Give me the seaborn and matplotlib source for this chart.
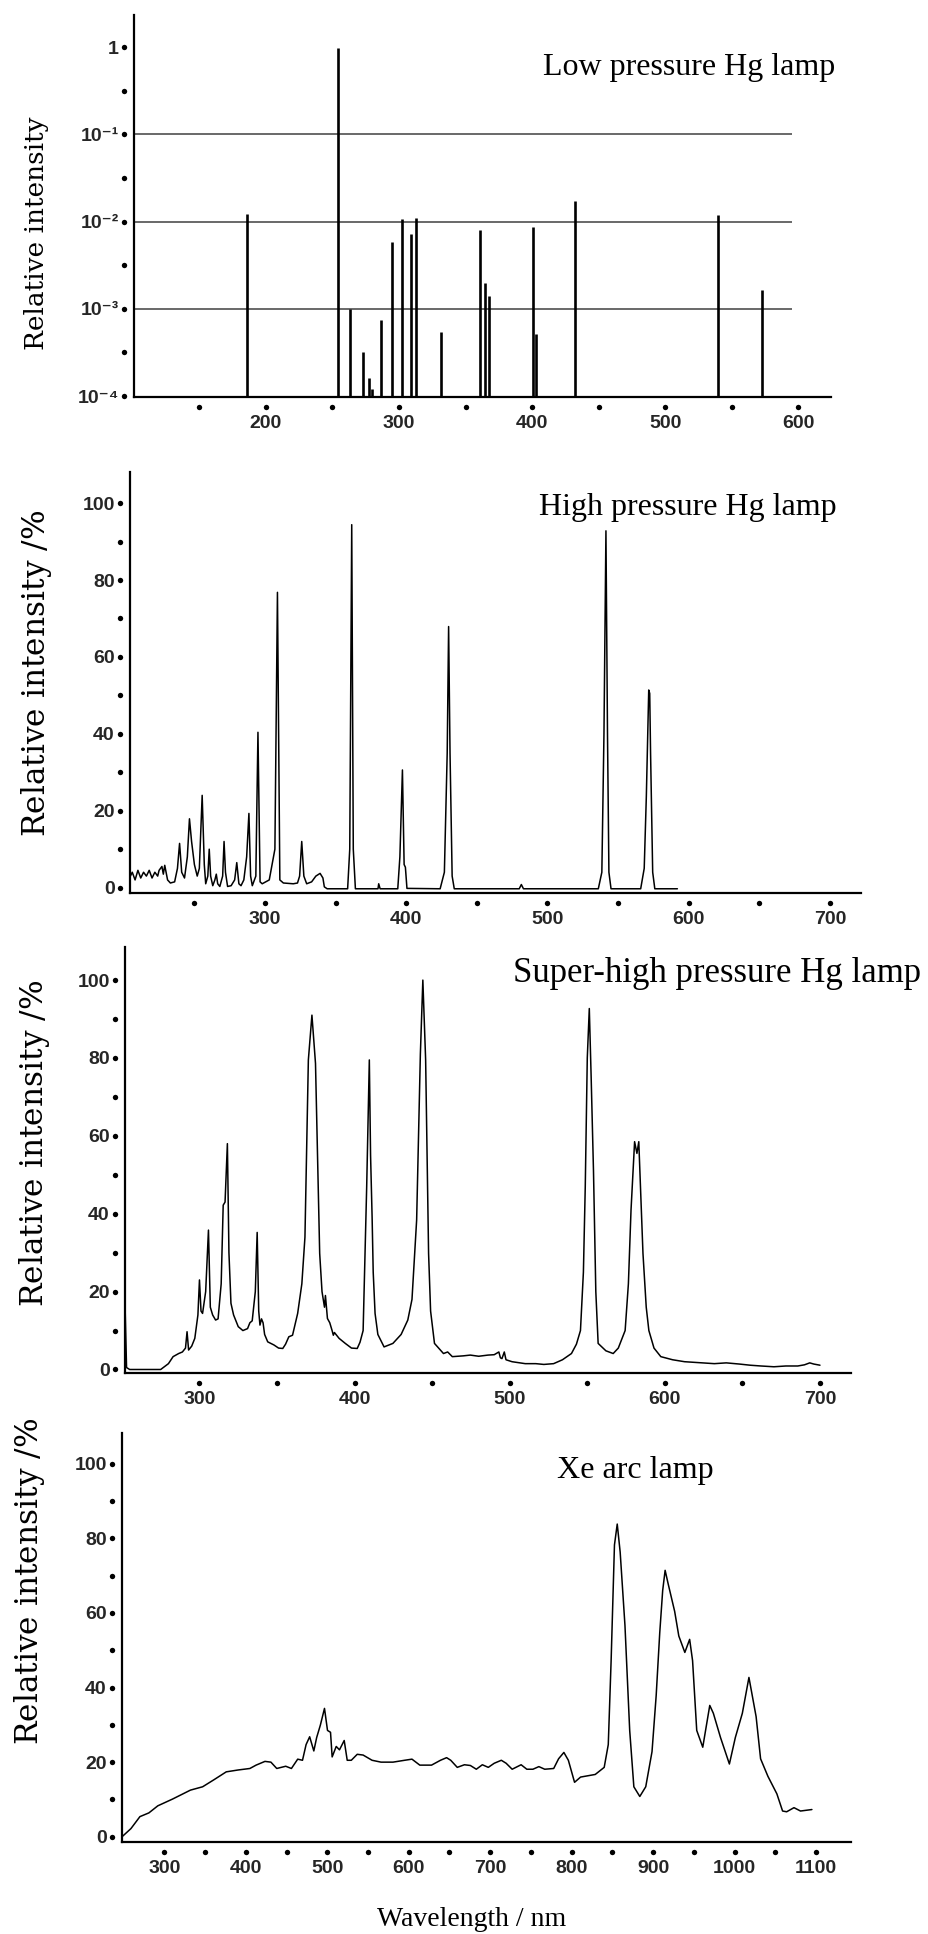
import numpy as np
import pandas as pd
import matplotlib
matplotlib.use("Agg")
import matplotlib.pyplot as plt
import seaborn as sns
from matplotlib.transforms import blended_transform_factory, ScaledTranslation

# ---------------- data ----------------
# Panel 1: low pressure Hg lamp (line spectrum, log intensity)
low_nm = [185.7, 254.2, 263.5, 273.0, 277.8, 280.0, 286.7, 295.0, 302.0, 309.0,
          313.0, 331.5, 361.0, 364.4, 367.6, 401.0, 403.0, 432.0, 540.0, 573.0]
low_int = [1.23e-2, 0.97, 1.0e-3, 3.2e-4, 1.6e-4, 1.2e-4, 7.4e-4, 5.9e-3, 1.07e-2, 7.2e-3,
           1.1e-2, 5.4e-4, 8.1e-3, 2.0e-3, 1.4e-3, 8.7e-3, 5.1e-4, 1.7e-2, 1.2e-2, 1.65e-3]
low_ref_levels = [1e-1, 1e-2, 1e-3]
low_yticks = [1e-4, 1e-3, 1e-2, 1e-1, 1]
low_yticklabels = ["10\u207b\u2074", "10\u207b\u00b3", "10\u207b\u00b2", "10\u207b\u00b9", "1"]
low_xticks = [200, 300, 400, 500, 600]

# Panel 2: high pressure Hg lamp
high_nm = [204, 206, 208, 210, 212, 214, 216, 218, 220, 222, 224, 225, 227, 228, 229, 231, 233,
           236, 238, 239.5, 241, 243, 245, 246.5, 248, 250, 252, 253.5, 255.5, 257, 258, 259.5,
           260.5, 261.5, 263, 264.5, 265.5, 266.5, 268, 270, 271, 272, 273.5, 276, 278.5, 280,
           281.5, 283, 285, 287, 288.6, 289.8, 291, 293.5, 295, 296.5, 298, 303, 307, 308.8,
           310.5, 313, 320, 323, 324.5, 326, 327.5, 329.5, 333, 336, 339, 341, 342, 344,
           358.5, 360, 361.4, 362.5, 364, 380, 380.5, 381.5, 394, 395.5, 397.3, 398.5, 399.4,
           400.5, 424, 427, 429, 430, 431, 432.5, 434, 480, 481.5, 483, 536, 538.5, 540, 541.4,
           542.5, 543.5, 545, 566, 568.5, 570, 571, 571.7, 572.4, 573, 574.5, 576, 592]
high_int = [2.5, 4, 2, 4.5, 2.5, 4, 3, 4.5, 2.5, 4, 3, 4.5, 5.5, 3.5, 5.8, 2, 1.2,
            1.5, 5, 11.5, 4, 2.5, 8, 17.9, 12, 6, 3, 5, 24, 6, 1, 3,
            10, 3, 0.5, 2, 3.5, 1, 0.3, 3, 12, 4, 0.3, 0.5, 2, 6.5,
            1, 0.5, 2, 8, 19.3, 3, 0.5, 3, 40.4, 1.5, 1, 2, 10, 76.8,
            2, 1.2, 1.0, 1.2, 3, 12, 3, 1, 1.5, 3, 3.7, 2.5, 0.2, -0.3,
            -0.3, 10, 94.4, 10, -0.3, -0.3, 1.0, -0.3, -0.3, 8, 30.6, 6, 5.3,
            -0.2, -0.3, 4, 35, 67.9, 35, 3, -0.3, -0.3, 0.8, -0.3, -0.3, 4, 40, 92.8,
            40, 4, -0.3, -0.3, 5, 23.7, 40, 51.4, 50.5, 35, 4, -0.3, -0.3]
high_xticks = [300, 400, 500, 600, 700]

# Panel 3: super-high pressure Hg lamp
shigh_nm = [252, 253, 255, 275, 280, 283, 286.6, 289, 291, 292, 293, 295, 297, 299, 300, 301,
            302, 304, 305.8, 307, 308.5, 310.4, 312, 314, 315.3, 316.5, 318, 319, 320.3, 322,
            325, 328, 331, 332.5, 334, 336, 337.2, 338.2, 339, 340, 341, 342, 344, 348, 351,
            353.7, 355.5, 357.6, 360, 363.3, 366, 368, 370.2, 372.5, 374.8, 377.5, 379, 380.6,
            381.2, 382.5, 384, 385.5, 386.3, 387, 390, 394, 398, 401.7, 403.5, 405.5, 407.8,
            409.5, 410.3, 411.3, 412, 413.2, 415, 419, 424.7, 430, 434.3, 437, 440, 442.4, 444,
            445.8, 447.7, 449, 451.5, 457.3, 460, 463, 470, 474.6, 480, 486, 490, 493, 494, 495,
            496.5, 497.6, 501.5, 510, 516.8, 522, 528.3, 534, 539.8, 543, 545.6, 547.5, 548.7,
            550, 551.3, 552.5, 554, 555.5, 557, 562, 566.7, 570, 574.4, 576.5, 578.2, 580.5, 582,
            583.2, 584.5, 585.9, 588, 589.7, 593, 597.4, 605, 612.7, 620, 631.9, 639.6, 648, 655,
            662, 670.3, 678, 685.7, 690, 693.4, 696, 700]
shigh_int = [17, 0.5, 0, 0, 1.5, 3.3, 4.1, 4.5, 5.5, 9.7, 5, 6, 8, 14, 23, 15,
             14.4, 20, 35.8, 16, 14, 12.7, 13, 22, 42.2, 43, 58, 30, 17, 14,
             11, 10, 10.5, 12, 12.5, 20, 35.2, 15, 11.4, 13, 12, 9, 7.1, 6.3, 5.5,
             5.4, 6.5, 8.4, 8.8, 14.4, 22, 34, 79.5, 91, 78.6, 29.8, 20, 16,
             19, 13.1, 12, 10, 8.8, 9.5, 8, 6.7, 5.5, 5.4, 7, 10, 47,
             79.5, 55, 39, 25, 14.4, 9, 5.8, 6.7, 9, 12.7, 18, 38.4, 81, 100,
             79.5, 29.8, 15, 6.7, 4.1, 4.5, 3.3, 3.5, 3.7, 3.4, 3.7, 3.8, 4.5, 3, 2.8,
             4.5, 2.5, 2, 1.5, 1.5, 1.3, 1.5, 2.5, 4.1, 6.5, 10, 25, 47,
             80, 92.7, 75, 51, 20, 6.7, 4.8, 4.1, 5.5, 10, 22, 41, 58.5, 55.5,
             58.5, 45, 29.8, 16, 10, 5.5, 3.3, 2.5, 2, 1.8, 1.5, 1.7, 1.4, 1.1,
             0.9, 0.7, 0.9, 0.9, 1.2, 1.7, 1.4, 1.1]
shigh_xticks = [300, 400, 500, 600, 700]

# Panel 4: Xe arc lamp
xe_nm = [248, 259, 270, 281, 292, 310, 332, 347, 361, 376, 390.6, 405, 412.6, 423.5, 430.8,
         438, 449, 456, 463.7, 469.6, 474, 478.4, 483.5, 487, 491.5, 496.6, 500.3, 504, 506,
         511, 515, 520.8, 524.5, 529.5, 536.8, 544, 555, 566, 580.7, 595, 604, 613.6, 628,
         639, 646.5, 651.6, 659.6, 668.4, 675.7, 683, 690.4, 697.7, 705, 713.7, 719.6, 727,
         738, 745, 752.5, 759.8, 767, 778, 784, 790.5, 796, 803.6, 811, 829, 840, 845, 848.5,
         852.6, 856, 859.6, 865.5, 871.3, 876.4, 883.7, 891, 898.7, 903.8, 908.2, 911.8, 914.8,
         918.4, 926.5, 931.6, 939, 944.9, 948.5, 953.6, 961, 969.6, 974, 982.8, 993.7, 1001,
         1009.6, 1017.7, 1026.5, 1032, 1041, 1052, 1059, 1064, 1073, 1081, 1095]
xe_int = [0, 2.2, 5.4, 6.4, 8.3, 10.1, 12.5, 13.4, 15.3, 17.4, 17.9, 18.3, 19.2, 20.2, 20,
          18.3, 18.9, 18.3, 20.8, 20.5, 24.7, 26.8, 23, 26.6, 29.9, 34.4, 28.5, 28, 21.4,
          24.2, 23.3, 25.8, 20.5, 20.5, 22.1, 21.9, 20.5, 20, 20, 20.5, 20.8, 19.2, 19.2,
          20.5, 21.2, 20.5, 18.6, 19.3, 19.1, 18.1, 19.3, 18.6, 19.7, 20.5, 19.7, 18.1,
          19.3, 18.1, 18.1, 18.8, 18.1, 18.3, 20.9, 22.6, 20.5, 14.6, 16, 16.7, 18.6, 24.7, 47.2,
          78.2, 83.8, 76.3, 56.6, 28.5, 13.4, 10.8, 13.4, 22.8, 37.8, 54.7, 66, 71.4,
          67.9, 60.4, 53.8, 49.4, 52.9, 47.2, 28.5, 24, 35.2, 33.1, 26.6, 19.5, 26.6,
          33.1, 42.7, 32.2, 20.9, 16.2, 11.5, 6.9, 6.7, 7.8, 6.9, 7.3]
xe_xticks = [300, 400, 500, 600, 700, 800, 900, 1000, 1100]

lin_yticks = [0, 20, 40, 60, 80, 100]
lin_yticklabels = ["0", "20", "40", "60", "80", "100"]

titles = ["Low pressure Hg lamp", "High pressure Hg lamp",
          "Super-high pressure Hg lamp", "Xe arc lamp"]
ylabels = ["Relative intensity", r"Relative intensity $\mathit{/\%}$",
           r"Relative intensity $\mathit{/\%}$", r"Relative intensity $\mathit{/\%}$"]
xlabel = "Wavelength / nm"

# ---------------- style ----------------
sns.set_theme(style="white")
plt.rcParams["font.family"] = ["DejaVu Sans"]
plt.rcParams["mathtext.fontset"] = "dejavuserif"
TICKFONT = dict(family=["Liberation Sans Narrow", "Liberation Sans", "DejaVu Sans"],
                weight="bold", size=14)
SERIF_T = ["Liberation Serif", "DejaVu Serif"]

W, H = 929, 1934
fig = plt.figure(figsize=(W / 100, H / 100), dpi=100)


def make_ax(l, r, t, b):
    ax = fig.add_axes([l / W, 1 - b / H, (r - l) / W, (b - t) / H])
    ax.set_facecolor("white")
    for s in ("top", "right"):
        ax.spines[s].set_visible(False)
    for s in ("left", "bottom"):
        ax.spines[s].set_color("black")
        ax.spines[s].set_linewidth(1.6)
    ax.tick_params(axis="both", length=0)
    ax.tick_params(axis="y", pad=11)
    ax.tick_params(axis="x", pad=13)
    ax.grid(False)
    return ax


def tick_dots(ax, xdots, ydots):
    ty = blended_transform_factory(ax.transAxes, ax.transData) + \
        ScaledTranslation(-10 / 100, 0, fig.dpi_scale_trans)
    ax.scatter([0] * len(ydots), ydots, s=15, color="black", transform=ty,
               clip_on=False, zorder=5, linewidths=0)
    tx = blended_transform_factory(ax.transData, ax.transAxes) + \
        ScaledTranslation(0, -10 / 100, fig.dpi_scale_trans)
    ax.scatter(xdots, [0] * len(xdots), s=15, color="black", transform=tx,
               clip_on=False, zorder=5, linewidths=0)


def set_labels(ax, xticks, yticks, ylabs):
    ax.set_xticks(xticks)
    ax.set_xticklabels([str(v) for v in xticks], fontdict=TICKFONT)
    ax.set_yticks(yticks)
    ax.set_yticklabels(ylabs, fontdict=TICKFONT)
    ax.set_xlabel("")
    ax.set_ylabel("")


# ---- Panel 1 ----
ax1 = make_ax(134, 831, 15, 397)
ax1.set_yscale("log")
ax1.set_xlim(101, 624.5)
ax1.set_ylim(0.974e-4, 2.33)
ax1.hlines(low_ref_levels, 101, 595, color="0.25", lw=1.1, zorder=1)
ax1.vlines(low_nm, 1e-4, low_int, color="black", lw=1.9, zorder=3)
ax1.minorticks_off()
set_labels(ax1, low_xticks, low_yticks, low_yticklabels)
tick_dots(ax1, list(range(150, 601, 50)), [10 ** (-4 + 0.5 * k) for k in range(9)])

# ---- Panel 2 ----
ax2 = make_ax(130, 861, 472, 893)
df2 = pd.DataFrame({"nm": high_nm, "I": high_int})
sns.lineplot(data=df2, x="nm", y="I", ax=ax2, color="black", lw=1.1,
             estimator=None, sort=False)
ax2.set_xlim(204.4, 722)
ax2.set_ylim(-1.4, 108.1)
set_labels(ax2, high_xticks, lin_yticks, lin_yticklabels)
tick_dots(ax2, list(range(250, 701, 50)), list(range(0, 101, 10)))

# ---- Panel 3 ----
ax3 = make_ax(125, 851, 947, 1373)
df3 = pd.DataFrame({"nm": shigh_nm, "I": shigh_int})
sns.lineplot(data=df3, x="nm", y="I", ax=ax3, color="black", lw=1.1,
             estimator=None, sort=False)
ax3.set_xlim(252, 720)
ax3.set_ylim(-0.9, 108.5)
set_labels(ax3, shigh_xticks, lin_yticks, lin_yticklabels)
tick_dots(ax3, list(range(300, 701, 50)), list(range(0, 101, 10)))

# ---- Panel 4 ----
ax4 = make_ax(122, 851, 1433, 1842)
df4 = pd.DataFrame({"nm": xe_nm, "I": xe_int})
sns.lineplot(data=df4, x="nm", y="I", ax=ax4, color="black", lw=1.1,
             estimator=None, sort=False)
ax4.set_xlim(248, 1143)
ax4.set_ylim(-1.4, 108.2)
set_labels(ax4, xe_xticks, lin_yticks, lin_yticklabels)
tick_dots(ax4, list(range(300, 1101, 50)), list(range(0, 101, 10)))

# ---- titles ----
title_pos = [(543, 75, 23), (539, 515, 23), (513, 982, 25), (557, 1478, 23)]
for (x, y, fs), t in zip(title_pos, titles):
    fig.text(x / W, 1 - y / H, t, family=SERIF_T, fontsize=fs,
             ha="left", va="baseline", color="black")

# ---- y labels ----
ylabel_pos = [(37, 233, 19), (37, 673, 22.5), (35, 1143, 22.5), (30, 1581, 22.5)]
for (x, y, fs), t in zip(ylabel_pos, ylabels):
    fig.text(x / W, 1 - y / H, t, family=["DejaVu Serif"], fontsize=fs,
             rotation=90, ha="center", va="center", color="black")

fig.text(472 / W, 1 - 1926 / H, xlabel, family=SERIF_T, fontsize=20,
         ha="center", va="baseline", color="black")

fig.savefig("out.png", dpi=100, facecolor="white")
